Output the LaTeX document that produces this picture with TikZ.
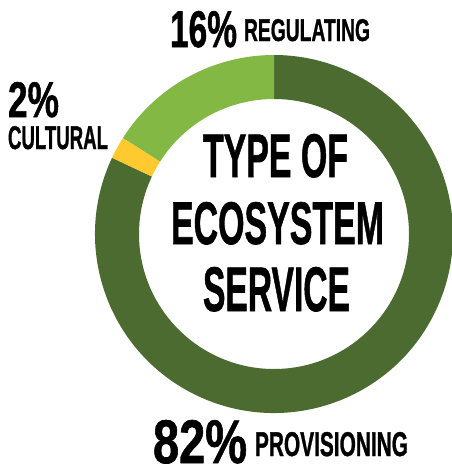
\documentclass[tikz,border=0pt]{standalone}
\usepackage{fontspec}
\usepackage{graphicx}
\usetikzlibrary{calc}
\setmainfont{Liberation Sans}
\newfontfamily\heavyfont{Liberation Sans}[UprightFont=*-Bold, FakeBold=1.2]
\definecolor{provgreen}{HTML}{4B6B30}
\definecolor{reggreen}{HTML}{82B843}
\definecolor{cultyellow}{HTML}{FFC930}
\newcommand\fitlbl[3]{\resizebox{#1pt}{#2pt}{\heavyfont #3}}
\tikzset{
  lbl/.style={inner sep=0pt, outer sep=0pt, anchor=base west, text=black},
  seg/.style={draw=none}
}
\begin{document}
\begin{tikzpicture}[x=1pt,y=1pt]
\useasboundingbox (0,0) rectangle (452,-471);
\coordinate (C) at (274,-234);
\def\Ro{179}
\def\Ri{135}
% provisioning 82%
\fill[provgreen, seg] ($(C)+(154.8:\Ro)$) arc[start angle=154.8, end angle=450, radius=\Ro]
  -- ($(C)+(90:\Ri)$) arc[start angle=450, end angle=154.8, radius=\Ri] -- cycle;
% regulating 16%
\fill[reggreen, seg] ($(C)+(90:\Ro)$) arc[start angle=90, end angle=147.6, radius=\Ro]
  -- ($(C)+(147.6:\Ri)$) arc[start angle=147.6, end angle=90, radius=\Ri] -- cycle;
% cultural 2%
\fill[cultyellow, seg] ($(C)+(147.6:\Ro)$) arc[start angle=147.6, end angle=154.8, radius=\Ro]
  -- ($(C)+(154.8:\Ri)$) arc[start angle=154.8, end angle=147.6, radius=\Ri] -- cycle;
% centre title
\node[lbl] (t1) at (203,-177) {\fitlbl{145}{43}{TYPE OF}};
\node[lbl] (t2) at (171,-244) {\fitlbl{213}{42}{ECOSYSTEM}};
\node[lbl] (t3) at (203,-311) {\fitlbl{147}{44}{SERVICE}};
% labels
\node[lbl] (p16) at (170,-47) {\fitlbl{67}{36}{16\%}};
\node[lbl] (lreg) at (244,-41) {\fitlbl{126}{22}{REGULATING}};
\node[lbl] (p2) at (8,-117) {\fitlbl{51}{35}{2\%}};
\node[lbl] (lcul) at (8,-149) {\fitlbl{100}{23}{CULTURAL}};
\node[lbl] (p82) at (153,-463) {\fitlbl{94}{43}{82\%}};
\node[lbl] (lprov) at (255,-456) {\fitlbl{153}{24}{PROVISIONING}};
\end{tikzpicture}
\end{document}
